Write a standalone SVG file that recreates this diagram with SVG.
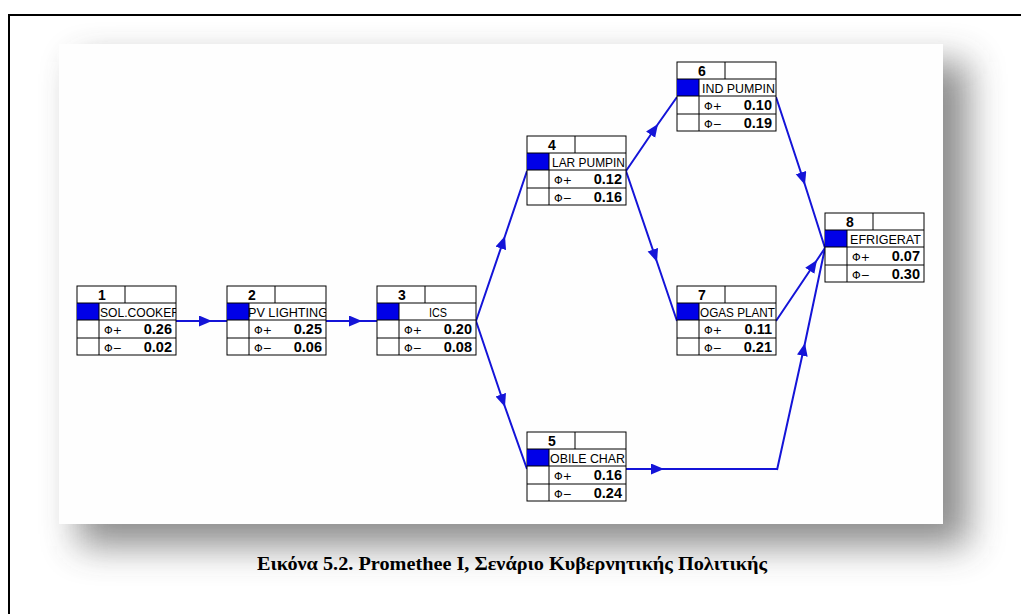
<svg xmlns="http://www.w3.org/2000/svg" width="1021" height="614" viewBox="0 0 1021 614">
<style>
.box{fill:#fff;stroke:#000;stroke-width:1}
.ln{stroke:#000;stroke-width:1;fill:none}
.blue{fill:#0000e8}
.num{font-family:"Liberation Sans",Arial,sans-serif;font-weight:bold;font-size:14px;text-anchor:middle}
.nm{font-family:"Liberation Sans",Arial,sans-serif;font-size:13px}
.phi{font-family:"DejaVu Sans",sans-serif;font-size:11px}
.val{font-family:"Liberation Sans",Arial,sans-serif;font-weight:bold;font-size:14.5px;text-anchor:end}
.edge{fill:none;stroke:#1414d8;stroke-width:2;marker-mid:url(#ah)}
.cap{font-family:"Liberation Serif","Times New Roman",serif;font-weight:bold;font-size:19px;text-anchor:middle}
</style>
<defs>
<filter id="sh" filterUnits="userSpaceOnUse" x="0" y="0" width="1021" height="614">
<feGaussianBlur stdDeviation="18"/>
</filter>
<marker id="ah" markerUnits="userSpaceOnUse" markerWidth="14" markerHeight="12" refX="13" refY="5.5" orient="auto">
<path d="M0,0 L13,5.5 L0,11 z" fill="#1414d8"/>
</marker>
<clipPath id="nc"><rect x="22" y="17" width="77" height="17"/></clipPath>
</defs>
<rect width="1021" height="614" fill="#fff"/>
<path d="M1023,15 H9 V616" fill="none" stroke="#000" stroke-width="2"/>
<rect x="78" y="62" width="890" height="484" fill="#404040" opacity="0.6" filter="url(#sh)"/>
<rect x="59" y="44" width="884" height="480" fill="#fefefe"/>

<g id="connectors">
<path class="edge" d="M176,321 L212,321 L227,321"/>
<path class="edge" d="M326,321 L362,321 L377,321"/>
<path class="edge" d="M476,321 L505,236 L527,171"/>
<path class="edge" d="M476,321 L505,407 L527,469"/>
<path class="edge" d="M626,171 L658,124 L677,97"/>
<path class="edge" d="M626,171 L657,262 L677,321"/>
<path class="edge" d="M776,97 L805,185 L825,248"/>
<path class="edge" d="M776,321 L817,260 L825,248"/>
<path class="edge" d="M626,469 L664,469 L778,469"/>
<path class="edge" d="M777,470 L805,343 L825,248"/>
</g>

<g id="node1" transform="translate(77,286)">
<rect class="box" x="0" y="0" width="99" height="69"/>
<rect class="blue" x="0" y="17" width="22" height="17"/>
<path class="ln" d="M0,17 H99 M0,34 H99 M0,52 H99 M22,17 V69 M48,0 V17"/>
<text class="num" x="25" y="14">1</text>
<text class="nm" x="23" y="30.5" textLength="80" lengthAdjust="spacingAndGlyphs" clip-path="url(#nc)">SOL.COOKER</text>
<text class="phi" x="27" y="47.5">Φ+</text><text class="val" x="95" y="48">0.26</text>
<text class="phi" x="27" y="65.5">Φ−</text><text class="val" x="95" y="66">0.02</text>
</g>

<g id="node2" transform="translate(227,286)">
<rect class="box" x="0" y="0" width="99" height="69"/>
<rect class="blue" x="0" y="17" width="22" height="17"/>
<path class="ln" d="M0,17 H99 M0,34 H99 M0,52 H99 M22,17 V69 M48,0 V17"/>
<text class="num" x="25" y="14">2</text>
<text class="nm" x="21" y="30.5" textLength="80" lengthAdjust="spacingAndGlyphs" clip-path="url(#nc)">PV LIGHTING</text>
<text class="phi" x="27" y="47.5">Φ+</text><text class="val" x="95" y="48">0.25</text>
<text class="phi" x="27" y="65.5">Φ−</text><text class="val" x="95" y="66">0.06</text>
</g>

<g id="node3" transform="translate(377,286)">
<rect class="box" x="0" y="0" width="99" height="69"/>
<rect class="blue" x="0" y="17" width="22" height="17"/>
<path class="ln" d="M0,17 H99 M0,34 H99 M0,52 H99 M22,17 V69 M48,0 V17"/>
<text class="num" x="25" y="14">3</text>
<text class="nm" x="61" y="30.5" text-anchor="middle" textLength="18" lengthAdjust="spacingAndGlyphs" clip-path="url(#nc)">ICS</text>
<text class="phi" x="27" y="47.5">Φ+</text><text class="val" x="95" y="48">0.20</text>
<text class="phi" x="27" y="65.5">Φ−</text><text class="val" x="95" y="66">0.08</text>
</g>

<g id="node4" transform="translate(527,136)">
<rect class="box" x="0" y="0" width="99" height="69"/>
<rect class="blue" x="0" y="17" width="22" height="17"/>
<path class="ln" d="M0,17 H99 M0,34 H99 M0,52 H99 M22,17 V69 M48,0 V17"/>
<text class="num" x="25" y="14">4</text>
<text class="nm" x="25" y="30.5" textLength="73" lengthAdjust="spacingAndGlyphs" clip-path="url(#nc)">LAR PUMPIN</text>
<text class="phi" x="27" y="47.5">Φ+</text><text class="val" x="95" y="48">0.12</text>
<text class="phi" x="27" y="65.5">Φ−</text><text class="val" x="95" y="66">0.16</text>
</g>

<g id="node5" transform="translate(527,432)">
<rect class="box" x="0" y="0" width="99" height="69"/>
<rect class="blue" x="0" y="17" width="22" height="17"/>
<path class="ln" d="M0,17 H99 M0,34 H99 M0,52 H99 M22,17 V69 M48,0 V17"/>
<text class="num" x="25" y="14">5</text>
<text class="nm" x="23" y="30.5" textLength="75" lengthAdjust="spacingAndGlyphs" clip-path="url(#nc)">OBILE CHAR</text>
<text class="phi" x="27" y="47.5">Φ+</text><text class="val" x="95" y="48">0.16</text>
<text class="phi" x="27" y="65.5">Φ−</text><text class="val" x="95" y="66">0.24</text>
</g>

<g id="node6" transform="translate(677,62)">
<rect class="box" x="0" y="0" width="99" height="69"/>
<rect class="blue" x="0" y="17" width="22" height="17"/>
<path class="ln" d="M0,17 H99 M0,34 H99 M0,52 H99 M22,17 V69 M48,0 V17"/>
<text class="num" x="25" y="14">6</text>
<text class="nm" x="25" y="30.5" textLength="73" lengthAdjust="spacingAndGlyphs" clip-path="url(#nc)">IND PUMPIN</text>
<text class="phi" x="27" y="47.5">Φ+</text><text class="val" x="95" y="48">0.10</text>
<text class="phi" x="27" y="65.5">Φ−</text><text class="val" x="95" y="66">0.19</text>
</g>

<g id="node7" transform="translate(677,286)">
<rect class="box" x="0" y="0" width="99" height="69"/>
<rect class="blue" x="0" y="17" width="22" height="17"/>
<path class="ln" d="M0,17 H99 M0,34 H99 M0,52 H99 M22,17 V69 M48,0 V17"/>
<text class="num" x="25" y="14">7</text>
<text class="nm" x="23" y="30.5" textLength="75" lengthAdjust="spacingAndGlyphs" clip-path="url(#nc)">OGAS PLANT</text>
<text class="phi" x="27" y="47.5">Φ+</text><text class="val" x="95" y="48">0.11</text>
<text class="phi" x="27" y="65.5">Φ−</text><text class="val" x="95" y="66">0.21</text>
</g>

<g id="node8" transform="translate(825,213)">
<rect class="box" x="0" y="0" width="99" height="69"/>
<rect class="blue" x="0" y="17" width="22" height="17"/>
<path class="ln" d="M0,17 H99 M0,34 H99 M0,52 H99 M22,17 V69 M48,0 V17"/>
<text class="num" x="25" y="14">8</text>
<text class="nm" x="25" y="30.5" textLength="71" lengthAdjust="spacingAndGlyphs" clip-path="url(#nc)">EFRIGERAT</text>
<text class="phi" x="27" y="47.5">Φ+</text><text class="val" x="95" y="48">0.07</text>
<text class="phi" x="27" y="65.5">Φ−</text><text class="val" x="95" y="66">0.30</text>
</g>

<text class="cap" x="512" y="570" textLength="510" lengthAdjust="spacingAndGlyphs">Εικόνα 5.2. Promethee I, Σενάριο Κυβερνητικής Πολιτικής</text>
</svg>
